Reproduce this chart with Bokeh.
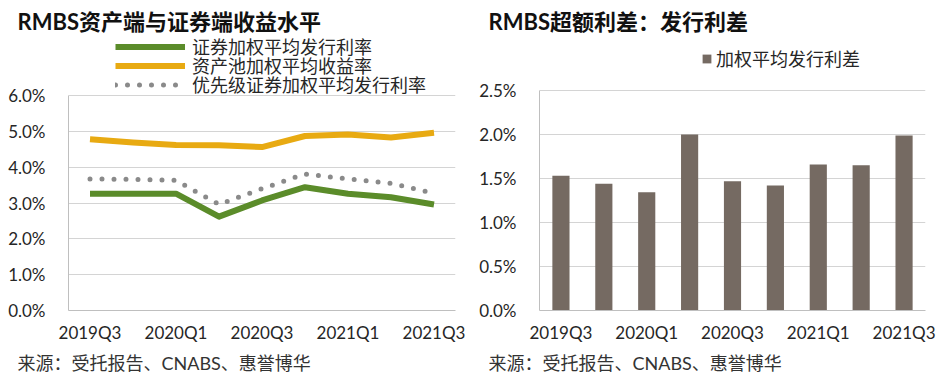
from bokeh.plotting import figure
from bokeh.layouts import row
from bokeh.models import (Range1d, FixedTicker, PrintfTickFormatter, Title,
                          Legend, LegendItem)
from bokeh.embed import file_html
from bokeh.resources import INLINE

# ---------------- data ----------------
quarters = ["2019Q3", "2019Q4", "2020Q1", "2020Q2", "2020Q3",
            "2020Q4", "2021Q1", "2021Q2", "2021Q3"]
shown_ticks = [0, 2, 4, 6, 8]

sec_rate = [3.26, 3.26, 3.26, 2.62, 3.07, 3.44, 3.26, 3.16, 2.96]      # 证券加权平均发行利率
pool_yield = [4.78, 4.69, 4.62, 4.61, 4.56, 4.87, 4.91, 4.83, 4.96]    # 资产池加权平均收益率
senior_rate = [3.67, 3.66, 3.63, 2.96, 3.40, 3.81, 3.67, 3.55, 3.27]   # 优先级证券加权平均发行利率
spread = [1.53, 1.44, 1.345, 2.00, 1.47, 1.42, 1.66, 1.65, 1.99]       # 加权平均发行利差

left_title = "RMBS资产端与证券端收益水平"
right_title = "RMBS超额利差：发行利差"
source_text = "来源：受托报告、CNABS、惠誉博华"
names_left = ["证券加权平均发行利率", "资产池加权平均收益率", "优先级证券加权平均发行利率"]
name_right = "加权平均发行利差"

# ---------------- style ----------------
FONT = "Lato, 'Noto Sans CJK SC'"
CJK = "'Noto Sans CJK SC'"
GREEN = "#5b8c2a"
GOLD = "#e8aa12"
GREY = "#8a8a8a"
BAR = "#756a62"
GRID = "#d4d4d4"
AXIS = "#bfbfbf"
TXT = "#262626"

idx = list(range(len(quarters)))
overrides = {i: quarters[i] for i in shown_ticks}

H = 385
TOP, BOTTOM = 34, 75
FRAME_H = H - TOP - BOTTOM          # frame spans legend area too


def base_fig(width, left, right, ymax, ystep, axis_px):
    # axis_px: pixel height from frame bottom at which the top tick sits
    yend = ymax * FRAME_H / axis_px
    p = figure(width=width, height=H, output_backend="svg", title=None,
               toolbar_location=None, tools="",
               x_range=Range1d(-0.5, len(quarters) - 0.5),
               y_range=Range1d(0, yend),
               min_border_left=left, min_border_right=right,
               min_border_top=TOP, min_border_bottom=BOTTOM)
    p.outline_line_color = None
    p.background_fill_color = "white"
    p.border_fill_color = "white"
    p.xgrid.visible = False
    p.ygrid.grid_line_color = GRID
    p.ygrid.grid_line_width = 1
    nt = int(round(ymax / ystep))
    p.yaxis.ticker = FixedTicker(ticks=[round(i * ystep, 4) for i in range(nt + 1)])
    p.yaxis.formatter = PrintfTickFormatter(format="%.1f%%")
    p.yaxis.bounds = (0, ymax)
    p.xaxis.ticker = FixedTicker(ticks=shown_ticks)
    p.xaxis.major_label_overrides = overrides
    for ax in (p.xaxis, p.yaxis):
        ax.axis_line_color = AXIS
        ax.axis_line_width = 1
        ax.major_tick_line_color = None
        ax.minor_tick_line_color = None
        ax.major_label_text_font = FONT
        ax.major_label_text_font_size = "17px"
        ax.major_label_text_color = TXT
    p.yaxis.major_label_standoff = 17
    p.xaxis.major_label_standoff = 5
    return p


def add_texts(p, title):
    p.add_layout(Title(text=title, align="left", offset=-51, standoff=0,
                       text_font=FONT, text_font_size="22px",
                       text_font_style="bold", text_color="#111111"), "above")
    p.add_layout(Title(text=source_text, align="left", offset=-51, standoff=8,
                       text_font=FONT, text_font_size="18px",
                       text_font_style="normal", text_color="#333333"), "below")


def one_legend(label, renderer, loc, gw, gh, standoff):
    return Legend(items=[LegendItem(label=label, renderers=[renderer])],
                  location=loc, orientation="vertical",
                  glyph_width=gw, glyph_height=gh, label_height=19,
                  label_standoff=standoff, spacing=0, padding=0, margin=0,
                  border_line_color=None, background_fill_alpha=0,
                  label_text_font=CJK, label_text_font_size="18px",
                  label_text_color=TXT)


# ---------------- left chart ----------------
left = base_fig(470, 68, 15, 6, 1, 215)
r1 = left.line(idx, sec_rate, line_color=GREEN, line_width=6, line_join="round")
r2 = left.line(idx, pool_yield, line_color=GOLD, line_width=6, line_join="round")
r3 = left.line(idx, senior_rate, line_color=GREY, line_width=5, line_dash="0 12",
               line_cap="round")
for lab, rr, yb in zip(names_left, [r1, r2, r3], [251, 232, 213]):
    left.add_layout(one_legend(lab, rr, (47, yb), 70, 19, 7), "center")
add_texts(left, left_title)

# ---------------- right chart ----------------
right = base_fig(477, 69, 22, 2.5, 0.5, 220)
rb = right.vbar(x=idx, top=spread, width=0.4, fill_color=BAR, line_color=None)
right.add_layout(one_legend(name_right, rb, (162, 239), 11, 11, 4), "center")
add_texts(right, right_title)

layout = row(left, right, spacing=0)
open("out.html", "w").write(file_html(layout, INLINE))
